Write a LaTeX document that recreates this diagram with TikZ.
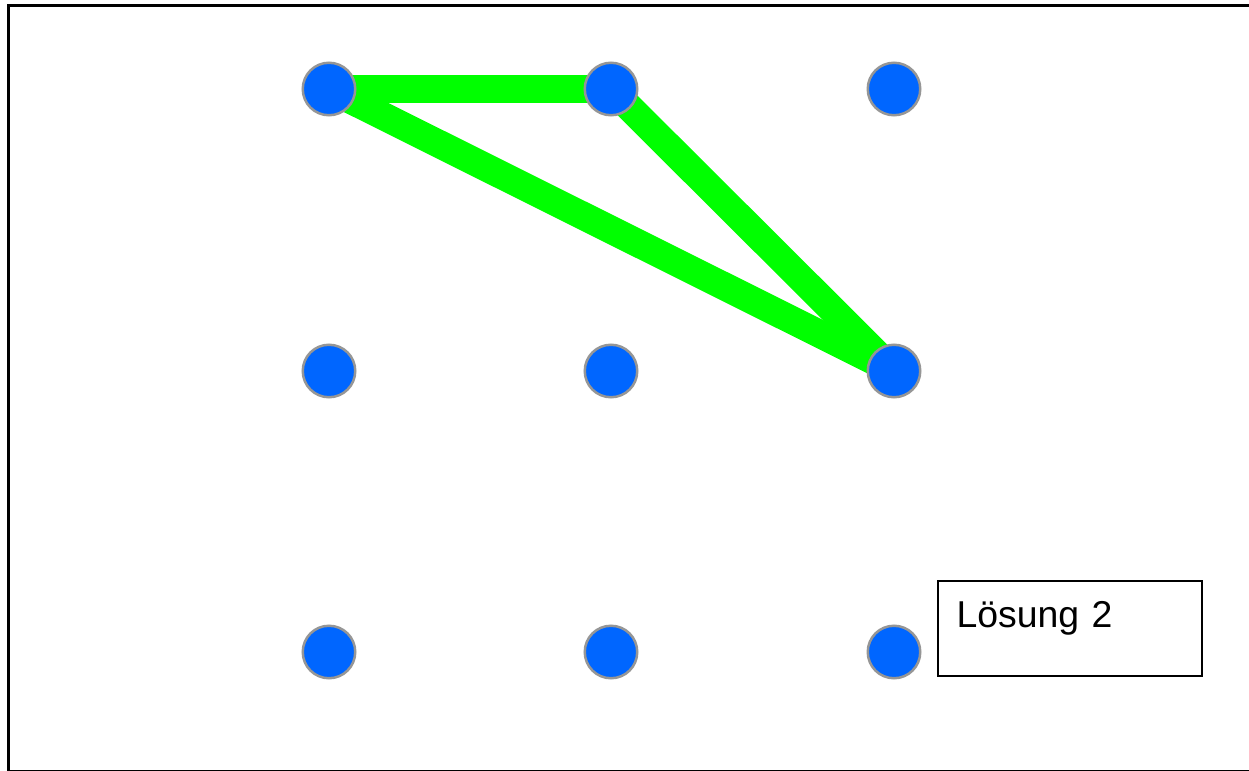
\documentclass[tikz,border=0pt]{standalone}
\usepackage{fontspec}
\setmainfont{Liberation Sans}
\usetikzlibrary{backgrounds}
\definecolor{ink}{RGB}{0,0,0}
\definecolor{dotblue}{RGB}{0,102,255}
\definecolor{dotrim}{RGB}{150,150,150}
\definecolor{linegreen}{RGB}{0,255,0}
\tikzset{
  gridpt/.style={circle, fill=dotblue, draw=dotrim, line width=1.25pt, minimum size=26.25pt, inner sep=0pt},
  edge/.style={draw=linegreen, line width=14pt},
  frame/.style={draw=ink, line width=1.75pt},
  solbox/.style={draw=ink, line width=1pt, fill=white, inner xsep=9.3pt, inner ysep=0pt,
    text width=113.4pt, minimum height=47.5pt, align=left, text height=13pt, text depth=14.5pt,
    font=\fontsize{18.7pt}{22pt}\selectfont},
}

\begin{document}
\begin{tikzpicture}[x=0.5pt, y=-0.5pt]
  \clip (0,0) rectangle (1249,771);
  \draw[frame] (8.5,5.5) rectangle (1262,771.5);
  % 3 x 3 grid of points
  \node[gridpt] (p11) at (329,89) {};
  \node[gridpt] (p12) at (611,89) {};
  \node[gridpt] (p13) at (894,89) {};
  \node[gridpt] (p21) at (329,371) {};
  \node[gridpt] (p22) at (611,371) {};
  \node[gridpt] (p23) at (894,371) {};
  \node[gridpt] (p31) at (329,652) {};
  \node[gridpt] (p32) at (611,652) {};
  \node[gridpt] (p33) at (894,652) {};
  % the triangle, under the points
  \begin{scope}[on background layer]
    \draw[edge] (p11.center) -- (p12.center);
    \draw[edge] (p12.center) -- (p23.center);
    \draw[edge] (p23.center) -- (p11.center);
  \end{scope}
  \node[solbox] (loesung) at (1070,628.5) {Lösung 2};
\end{tikzpicture}
\end{document}
